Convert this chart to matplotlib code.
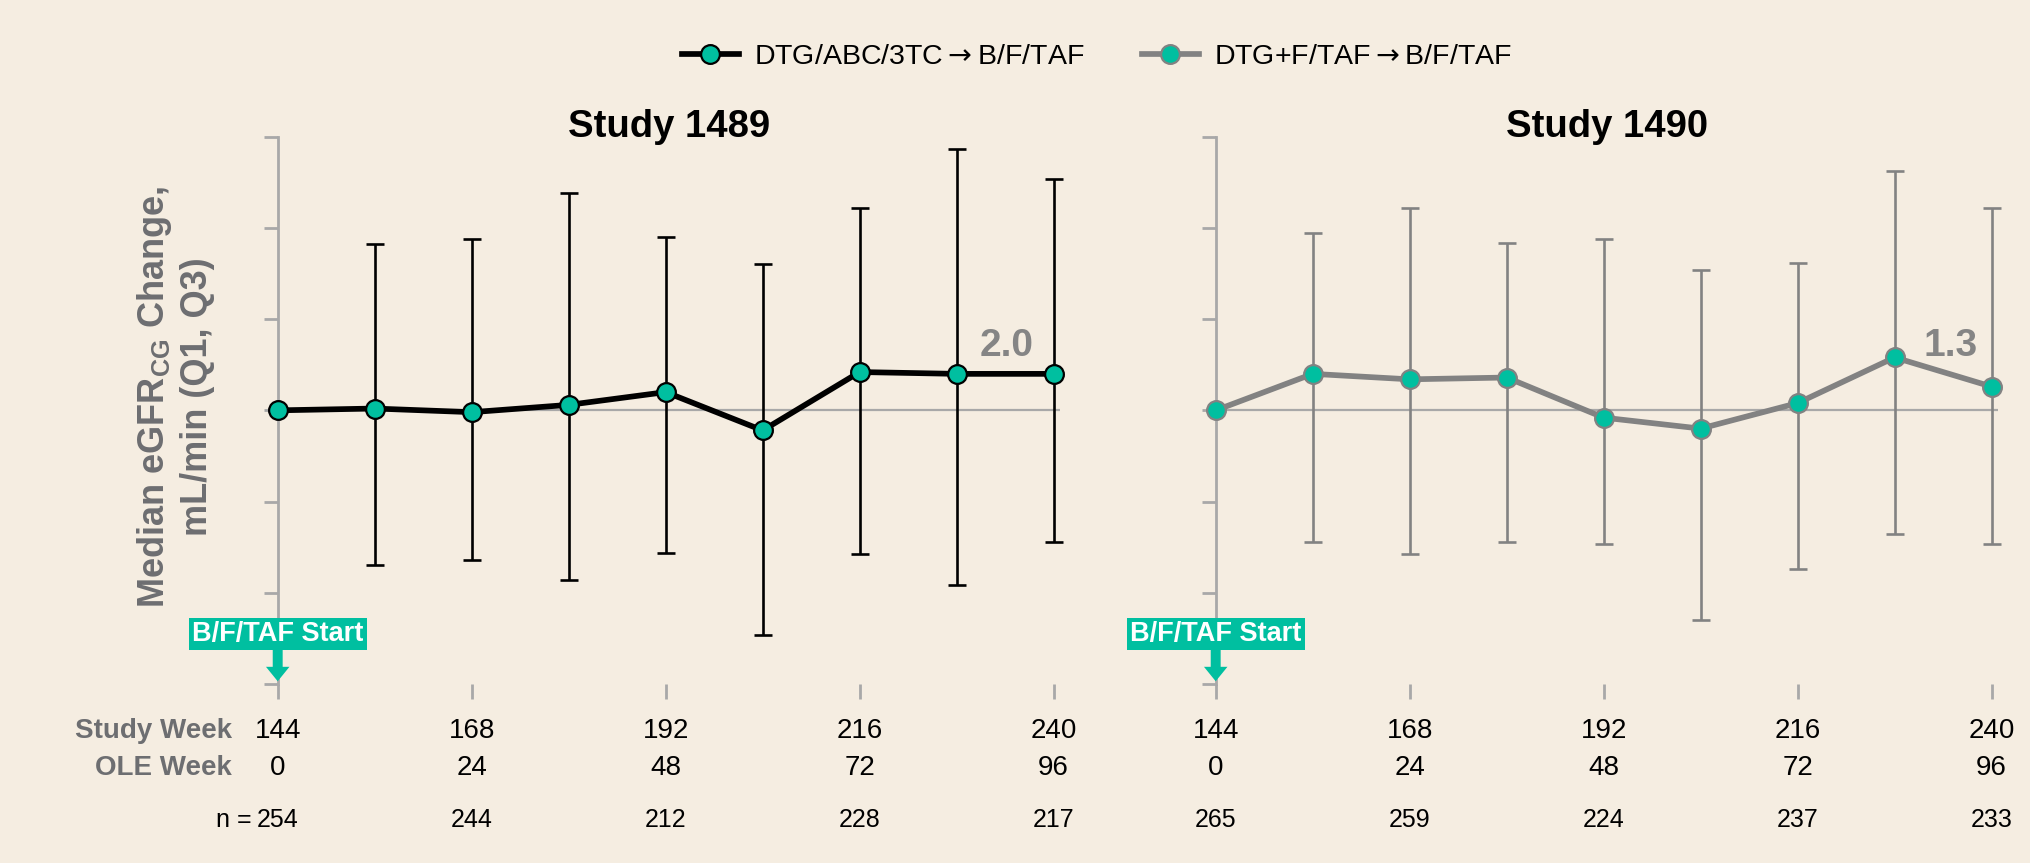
import matplotlib
matplotlib.use("Agg")
import matplotlib.pyplot as plt
import matplotlib.transforms as mtransforms

plt.rcParams['font.family'] = ['Liberation Sans', 'DejaVu Sans']
# DejaVu for math symbols (full-size arrow); \mathregular keeps text font
plt.rcParams['mathtext.fontset'] = 'dejavusans'

# ---- data ----
WEEKS = [144, 156, 168, 180, 192, 204, 216, 228, 240]
TICK_WEEKS = [144, 168, 192, 216, 240]
OLE_WEEKS = [0, 24, 48, 72, 96]

S1489_MED = [0.0, 0.1, -0.1, 0.3, 1.0, -1.1, 2.1, 2.0, 2.0]
S1489_Q1 = [None, -8.5, -8.2, -9.3, -7.8, -12.3, -7.9, -9.6, -7.2]
S1489_Q3 = [None, 9.1, 9.4, 11.9, 9.5, 8.0, 11.1, 14.3, 12.7]
S1489_N = [254, 244, 212, 228, 217]

S1490_MED = [0.0, 2.0, 1.7, 1.8, -0.4, -1.0, 0.4, 2.9, 1.3]
S1490_Q1 = [None, -7.2, -7.9, -7.2, -7.3, -11.5, -8.7, -6.8, -7.3]
S1490_Q3 = [None, 9.7, 11.1, 9.2, 9.4, 7.7, 8.1, 13.1, 11.1]
S1490_N = [265, 259, 224, 237, 233]

LABEL_1489 = "DTG/ABC/3TC$\\rightarrow$B/F/TAF"
LABEL_1490 = "DTG+F/TAF$\\rightarrow$B/F/TAF"

# ---- style ----
BG = "#F5EDE1"
TEAL = "#00BFA0"
GREY_LINE = "#828282"
AXIS_GREY = "#A8A8A8"
LABEL_GREY = "#6D6E71"
VALUE_GREY = "#858585"

W, H = 2031, 863


def draw_panel(fig, ax, med, q1, q3, nvals, title, line_color, err_color,
               edge_color, label, value_x, first):
    ax.set_facecolor("none")
    ax.axhline(0, color=AXIS_GREY, lw=1.6, zorder=1)

    ew = [w for w, lo in zip(WEEKS, q1) if lo is not None]
    em = [m for m, lo in zip(med, q1) if lo is not None]
    lo = [m - l for m, l in zip(med, q1) if l is not None]
    hi = [h - m for m, h in zip(med, q3) if h is not None]
    ax.errorbar(ew, em, yerr=[lo, hi], fmt="none", ecolor=err_color,
                elinewidth=1.9, capsize=6.2, capthick=1.9, zorder=2,
                clip_on=False)
    line, = ax.plot(WEEKS, med, color=line_color, lw=4.1, marker="o", ms=13.5,
                    mfc=TEAL, mec=edge_color, mew=1.6, zorder=3,
                    clip_on=False, label=label)

    ax.set_xlim(144, 240.8)
    ax.set_ylim(-15, 15)
    ax.set_yticks(range(-15, 16, 5))
    ax.set_yticklabels([])
    ax.set_xticks(TICK_WEEKS)
    ax.set_xticklabels([])
    for s in ["top", "right", "bottom"]:
        ax.spines[s].set_visible(False)
    ax.spines["left"].set_color(AXIS_GREY)
    ax.spines["left"].set_linewidth(2)
    ax.tick_params(axis="y", length=10, width=2, color=AXIS_GREY)
    ax.tick_params(axis="x", length=11, width=2, color=AXIS_GREY)

    ax.text(0.5, 1.0, title, transform=ax.transAxes, ha="center",
            va="baseline", fontsize=27.5, fontweight="bold", color="black")
    ax.text(value_x, 3.0, f"{med[-1]:.1f}", ha="right", va="baseline",
            fontsize=28, fontweight="bold", color=VALUE_GREY)

    # start marker
    ax.text(144, -12.25, "B/F/TAF Start", ha="center", va="center",
            fontsize=19.5, fontweight="bold", color="white", clip_on=False,
            bbox=dict(boxstyle="square,pad=0.12", fc=TEAL, ec="none"),
            zorder=5)
    ax.annotate("", xy=(144, -14.85), xytext=(144, -13.1),
                arrowprops=dict(arrowstyle="simple,head_length=0.8,head_width=1.3,tail_width=0.55",
                                fc=TEAL, ec="none", mutation_scale=13,
                                shrinkA=0, shrinkB=0),
                annotation_clip=False, zorder=5)

    trans = mtransforms.blended_transform_factory(ax.transData, fig.transFigure)
    y_sw = 1 - 738 / H
    y_ole = 1 - 775 / H
    y_n = 1 - 827 / H
    for wk, ole, n in zip(TICK_WEEKS, OLE_WEEKS, nvals):
        ax.text(wk, y_sw, str(wk), transform=trans, ha="center",
                va="baseline", fontsize=20)
        ax.text(wk, y_ole, str(ole), transform=trans, ha="center",
                va="baseline", fontsize=20)
        ax.text(wk, y_n, str(n), transform=trans, ha="center",
                va="baseline", fontsize=18)
    if first:
        fig.text(231.7 / W, y_sw, "Study Week", ha="right", va="baseline",
                 fontsize=20, fontweight="bold", color=LABEL_GREY)
        fig.text(231.7 / W, y_ole, "OLE Week", ha="right", va="baseline",
                 fontsize=20, fontweight="bold", color=LABEL_GREY)
        fig.text(252 / W, y_n, "n =", ha="right", va="baseline",
                 fontsize=18)
    return line


def main():
    fig = plt.figure(figsize=(W / 100, H / 100), dpi=100, facecolor=BG)
    bottom = 1 - 684 / H
    height = (684 - 136.7) / H
    width = 782.4 / W
    ax1 = fig.add_axes([277.7 / W, bottom, width, height])
    ax2 = fig.add_axes([1215.7 / W, bottom, width, height])

    l1 = draw_panel(fig, ax1, S1489_MED, S1489_Q1, S1489_Q3, S1489_N,
                    "Study 1489", "black", "black", "black", LABEL_1489,
                    237.5, True)
    l2 = draw_panel(fig, ax2, S1490_MED, S1490_Q1, S1490_Q3, S1490_N,
                    "Study 1490", GREY_LINE, GREY_LINE, GREY_LINE, LABEL_1490,
                    238.3, False)

    fig.text(175 / W, 1 - 397 / H,
             "Median eGFR$_{\\mathregular{CG}}$ Change,\nmL/min (Q1, Q3)",
             rotation=90, ha="center", va="center", multialignment="center",
             fontsize=26, fontweight="bold", color=LABEL_GREY, linespacing=1.2)

    fig.legend(handles=[l1, l2], loc="center", bbox_to_anchor=(1097 / W, 1 - 57 / H),
               ncol=2, frameon=False, fontsize=20.5, handlelength=2.0,
               handletextpad=0.55, columnspacing=2.0, numpoints=1)

    fig.savefig("out.png", dpi=100, facecolor=BG)


if __name__ == "__main__":
    main()
